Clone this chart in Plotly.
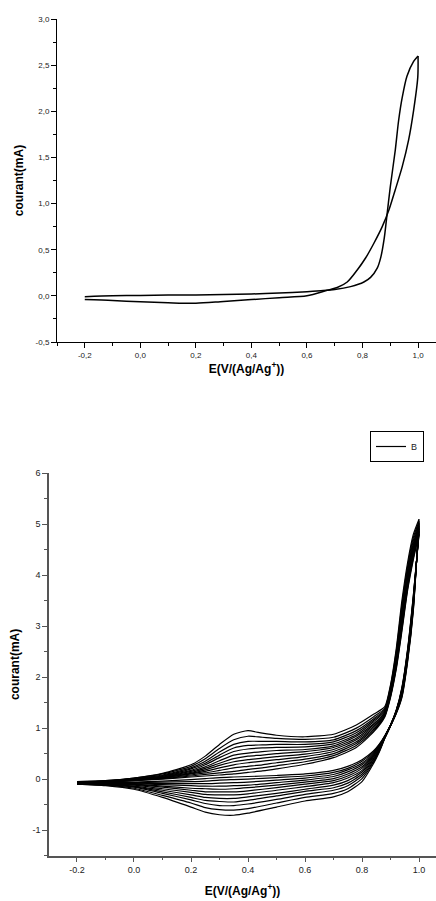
import plotly.graph_objects as go

W, H = 436, 901

# ---------------- Top chart data (single CV loop) ----------------
TOP_FWD_X = [-0.2, -0.1, 0.0, 0.1, 0.2, 0.3, 0.4, 0.5, 0.6, 0.65, 0.7, 0.757, 0.805, 0.829,
             0.853, 0.866, 0.878, 0.886, 0.9, 0.918, 0.93, 0.943, 0.96, 0.984, 1.0]
TOP_FWD_Y = [-0.01, 0.0, 0.005, 0.01, 0.01, 0.015, 0.02, 0.03, 0.045, 0.055, 0.068, 0.10, 0.15, 0.20,
             0.30, 0.42, 0.62, 0.82, 1.18, 1.58, 1.90, 2.15, 2.38, 2.54, 2.60]
TOP_REV_X = [1.0, 0.999, 0.984, 0.966, 0.943, 0.918, 0.895, 0.871, 0.841, 0.811, 0.781, 0.745,
             0.709, 0.673, 0.6, 0.5, 0.4, 0.3, 0.2, 0.1, 0.0, -0.1, -0.2]
TOP_REV_Y = [2.60, 2.37, 2.01, 1.69, 1.40, 1.15, 0.93, 0.75, 0.57, 0.41, 0.28, 0.15,
             0.09, 0.06, 0.0, -0.02, -0.04, -0.06, -0.08, -0.075, -0.065, -0.05, -0.04]

TOP_XTICKS = [-0.2, 0.0, 0.2, 0.4, 0.6, 0.8, 1.0]
TOP_XTICKTEXT = ["-0,2", "0,0", "0,2", "0,4", "0,6", "0,8", "1,0"]
TOP_YTICKS = [-0.5, 0.0, 0.5, 1.0, 1.5, 2.0, 2.5, 3.0]
TOP_YTICKTEXT = ["-0,5", "0,0", "0,5", "1,0", "1,5", "2,0", "2,5", "3,0"]

# ---------------- Bottom chart data (repeated cycles) ----------------
ANOD_X = [-0.2, -0.1, 0.0, 0.1, 0.2, 0.25, 0.3, 0.35, 0.4, 0.45, 0.5, 0.6, 0.7, 0.78,
          0.84, 0.88, 0.9, 0.92, 0.94, 0.96, 0.98, 1.0]
A01 = [-0.08, -0.06, -0.03, 0.0, 0.04, 0.06, 0.08, 0.10, 0.13, 0.16, 0.20, 0.29, 0.42, 0.62, 0.92, 1.22, 1.60, 2.15, 2.90, 3.70, 4.30, 4.80]
A02 = [-0.08, -0.06, -0.03, 0.01, 0.06, 0.09, 0.12, 0.15, 0.19, 0.22, 0.26, 0.34, 0.46, 0.66, 0.94, 1.24, 1.62, 2.18, 2.94, 3.74, 4.34, 4.82]
A03 = [-0.07, -0.06, -0.02, 0.02, 0.08, 0.12, 0.17, 0.22, 0.25, 0.28, 0.32, 0.39, 0.50, 0.70, 0.97, 1.25, 1.64, 2.21, 2.99, 3.78, 4.38, 4.85]
A04 = [-0.07, -0.05, -0.02, 0.03, 0.10, 0.15, 0.22, 0.28, 0.32, 0.35, 0.38, 0.44, 0.54, 0.73, 1.00, 1.27, 1.66, 2.24, 3.04, 3.83, 4.42, 4.87]
A05 = [-0.07, -0.05, -0.01, 0.03, 0.11, 0.18, 0.27, 0.34, 0.38, 0.41, 0.44, 0.49, 0.58, 0.77, 1.03, 1.28, 1.68, 2.28, 3.09, 3.87, 4.46, 4.90]
A06 = [-0.07, -0.05, -0.01, 0.04, 0.13, 0.21, 0.31, 0.40, 0.45, 0.47, 0.50, 0.54, 0.62, 0.80, 1.06, 1.30, 1.70, 2.31, 3.13, 3.91, 4.50, 4.92]
A07 = [-0.06, -0.05, 0.0, 0.05, 0.15, 0.24, 0.36, 0.47, 0.51, 0.54, 0.56, 0.58, 0.65, 0.84, 1.08, 1.31, 1.72, 2.34, 3.18, 3.96, 4.54, 4.94]
A08 = [-0.06, -0.04, 0.0, 0.06, 0.17, 0.28, 0.42, 0.54, 0.59, 0.61, 0.62, 0.63, 0.69, 0.87, 1.12, 1.33, 1.74, 2.37, 3.23, 4.00, 4.58, 4.97]
A09 = [-0.06, -0.04, 0.01, 0.07, 0.20, 0.31, 0.47, 0.61, 0.66, 0.67, 0.68, 0.68, 0.73, 0.91, 1.15, 1.35, 1.76, 2.41, 3.29, 4.06, 4.62, 5.00]
A10 = [-0.06, -0.04, 0.01, 0.08, 0.22, 0.35, 0.53, 0.68, 0.74, 0.74, 0.74, 0.73, 0.77, 0.95, 1.18, 1.37, 1.79, 2.45, 3.35, 4.11, 4.68, 5.03]
A11 = [-0.05, -0.03, 0.02, 0.10, 0.25, 0.40, 0.60, 0.77, 0.84, 0.82, 0.80, 0.78, 0.82, 1.00, 1.22, 1.39, 1.82, 2.50, 3.42, 4.18, 4.74, 5.06]
A12 = [-0.05, -0.03, 0.02, 0.11, 0.28, 0.45, 0.68, 0.88, 0.95, 0.90, 0.86, 0.83, 0.88, 1.06, 1.27, 1.42, 1.85, 2.55, 3.50, 4.25, 4.80, 5.10]

CATH_X = [1.0, 0.98, 0.96, 0.94, 0.92, 0.9, 0.88, 0.86, 0.84, 0.8, 0.75, 0.7, 0.6, 0.5,
          0.4, 0.35, 0.3, 0.25, 0.2, 0.1, 0.0, -0.1, -0.2]
C01 = [4.80, 3.60, 2.55, 1.80, 1.35, 1.06, 0.85, 0.68, 0.55, 0.38, 0.25, 0.17, 0.10, 0.07, 0.05, 0.04, 0.03, 0.01, -0.01, -0.04, -0.06, -0.07, -0.08]
C02 = [4.82, 3.58, 2.53, 1.78, 1.34, 1.06, 0.85, 0.67, 0.53, 0.35, 0.21, 0.13, 0.06, 0.03, 0.0, -0.01, -0.02, -0.04, -0.05, -0.06, -0.07, -0.07, -0.08]
C03 = [4.85, 3.55, 2.51, 1.77, 1.34, 1.06, 0.84, 0.66, 0.51, 0.31, 0.18, 0.09, 0.02, -0.02, -0.06, -0.07, -0.08, -0.09, -0.09, -0.09, -0.08, -0.08, -0.08]
C04 = [4.87, 3.52, 2.49, 1.75, 1.33, 1.05, 0.84, 0.64, 0.49, 0.28, 0.14, 0.05, -0.02, -0.07, -0.12, -0.13, -0.14, -0.14, -0.13, -0.11, -0.09, -0.08, -0.08]
C05 = [4.90, 3.50, 2.47, 1.73, 1.33, 1.05, 0.83, 0.63, 0.47, 0.24, 0.10, 0.01, -0.06, -0.12, -0.17, -0.19, -0.20, -0.19, -0.18, -0.14, -0.10, -0.09, -0.09]
C06 = [4.92, 3.47, 2.45, 1.72, 1.32, 1.05, 0.83, 0.61, 0.45, 0.21, 0.06, -0.03, -0.10, -0.17, -0.23, -0.25, -0.25, -0.25, -0.22, -0.16, -0.11, -0.09, -0.09]
C07 = [4.94, 3.44, 2.43, 1.70, 1.32, 1.05, 0.82, 0.60, 0.43, 0.17, 0.02, -0.07, -0.15, -0.22, -0.29, -0.31, -0.31, -0.30, -0.26, -0.19, -0.12, -0.10, -0.09]
C08 = [4.97, 3.42, 2.40, 1.68, 1.31, 1.05, 0.82, 0.58, 0.40, 0.14, -0.03, -0.12, -0.20, -0.28, -0.35, -0.38, -0.38, -0.36, -0.31, -0.22, -0.14, -0.10, -0.09]
C09 = [5.00, 3.39, 2.38, 1.66, 1.30, 1.05, 0.81, 0.57, 0.38, 0.10, -0.08, -0.17, -0.24, -0.33, -0.42, -0.45, -0.44, -0.42, -0.36, -0.25, -0.15, -0.11, -0.10]
C10 = [5.03, 3.36, 2.35, 1.64, 1.30, 1.04, 0.81, 0.55, 0.35, 0.06, -0.13, -0.22, -0.30, -0.40, -0.49, -0.52, -0.52, -0.48, -0.41, -0.28, -0.16, -0.11, -0.10]
C11 = [5.06, 3.33, 2.33, 1.62, 1.29, 1.04, 0.80, 0.54, 0.33, 0.01, -0.19, -0.28, -0.36, -0.47, -0.58, -0.61, -0.60, -0.56, -0.47, -0.32, -0.18, -0.12, -0.10]
C12 = [5.10, 3.30, 2.30, 1.60, 1.28, 1.04, 0.80, 0.52, 0.30, -0.05, -0.25, -0.35, -0.43, -0.55, -0.67, -0.71, -0.70, -0.65, -0.55, -0.36, -0.20, -0.13, -0.10]

ANODIC = [A01, A02, A03, A04, A05, A06, A07, A08, A09, A10, A11, A12]
CATHODIC = [C01, C02, C03, C04, C05, C06, C07, C08, C09, C10, C11, C12]

BOT_XTICKS = [-0.2, 0.0, 0.2, 0.4, 0.6, 0.8, 1.0]
BOT_XTICKTEXT = ["-0.2", "0.0", "0.2", "0.4", "0.6", "0.8", "1.0"]
BOT_YTICKS = [-1, 0, 1, 2, 3, 4, 5, 6]
BOT_YTICKTEXT = ["-1", "0", "1", "2", "3", "4", "5", "6"]

LEGEND_NAME = "B"
Y_TITLE = "courant(mA)"
X_TITLE = "E(V/(Ag/Ag<sup>+</sup>))"

FONT = "Liberation Sans, Arial, sans-serif"

fig = go.Figure()

# top chart traces
for xs, ys in ((TOP_FWD_X, TOP_FWD_Y), (TOP_REV_X, TOP_REV_Y)):
    fig.add_trace(go.Scatter(x=xs, y=ys, mode="lines", xaxis="x", yaxis="y",
                             line=dict(color="black", width=1.5, shape="spline", smoothing=0.8),
                             showlegend=False, hoverinfo="skip"))

# bottom chart traces
first = True
for a_y, c_y in zip(ANODIC, CATHODIC):
    fig.add_trace(go.Scatter(x=ANOD_X, y=a_y, mode="lines", xaxis="x2", yaxis="y2",
                             line=dict(color="black", width=1.2, shape="spline", smoothing=0.6),
                             name=LEGEND_NAME, showlegend=first, legendgroup="B",
                             hoverinfo="skip"))
    first = False
    fig.add_trace(go.Scatter(x=CATH_X, y=c_y, mode="lines", xaxis="x2", yaxis="y2",
                             line=dict(color="black", width=1.2, shape="spline", smoothing=0.6),
                             showlegend=False, legendgroup="B", hoverinfo="skip"))


def px_x(p):
    return p / W


def px_y(p):
    return (H - p) / H


title_font = dict(family=FONT, size=12, color="black")

common = dict(showgrid=False, zeroline=False, showline=True, ticks="outside",
              tickwidth=1, mirror=False, automargin=False)

fig.update_layout(
    width=W, height=H,
    margin=dict(l=0, r=0, t=0, b=0),
    paper_bgcolor="white", plot_bgcolor="white",
    font=dict(family=FONT, color="#222"),
    xaxis=dict(domain=[px_x(57), 1.0], range=[-0.3, 1.0646], anchor="y",
               linecolor="black", linewidth=1, ticklen=5, tickcolor="black",
               tickvals=TOP_XTICKS, ticktext=TOP_XTICKTEXT,
               tickfont=dict(size=8, color="#222", family=FONT),
               minor=dict(ticks="outside", ticklen=3, tickcolor="black",
                          tickmode="linear", tick0=-0.3, dtick=0.1),
               title=dict(text="<b>" + X_TITLE + "</b>", font=title_font, standoff=5),
               **common),
    yaxis=dict(domain=[px_y(342), px_y(19)], range=[-0.5, 3.0], anchor="x",
               linecolor="black", linewidth=1, ticklen=5, tickcolor="black",
               tickvals=TOP_YTICKS, ticktext=TOP_YTICKTEXT,
               tickfont=dict(size=8, color="#222", family=FONT),
               minor=dict(ticks="outside", ticklen=3, tickcolor="black",
                          tickmode="linear", tick0=-0.25, dtick=0.5),
               title=dict(text="<b>" + Y_TITLE + "</b>", font=title_font, standoff=9),
               **common),
    xaxis2=dict(domain=[px_x(49), 1.0], range=[-0.2982, 1.0596], anchor="y2",
                linecolor="#555", linewidth=1.5, ticklen=5, tickcolor="#555",
                tickvals=BOT_XTICKS, ticktext=BOT_XTICKTEXT,
                tickfont=dict(size=9, color="#222", family=FONT),
                minor=dict(ticks="outside", ticklen=3, tickcolor="#555",
                           tickmode="linear", tick0=-0.3, dtick=0.1),
                title=dict(text="<b>" + X_TITLE + "</b>", font=title_font, standoff=13),
                **common),
    yaxis2=dict(domain=[px_y(855.5), px_y(473.3)], range=[-1.5, 6.0], anchor="x2",
                linecolor="#555", linewidth=1.5, ticklen=5, tickcolor="#555",
                tickvals=BOT_YTICKS, ticktext=BOT_YTICKTEXT,
                tickfont=dict(size=9, color="#222", family=FONT),
                minor=dict(ticks="outside", ticklen=3, tickcolor="#555",
                           tickmode="linear", tick0=-1.5, dtick=1.0),
                title=dict(text="<b>" + Y_TITLE + "</b>", font=title_font, standoff=10),
                **common),
    showlegend=True,
    legend=dict(x=px_x(370), y=px_y(431), xanchor="left", yanchor="top",
                bordercolor="black", borderwidth=1, bgcolor="white",
                font=dict(size=9, color="#222", family=FONT),
                itemwidth=30, tracegroupgap=0),
)

fig.write_html("out.html")
